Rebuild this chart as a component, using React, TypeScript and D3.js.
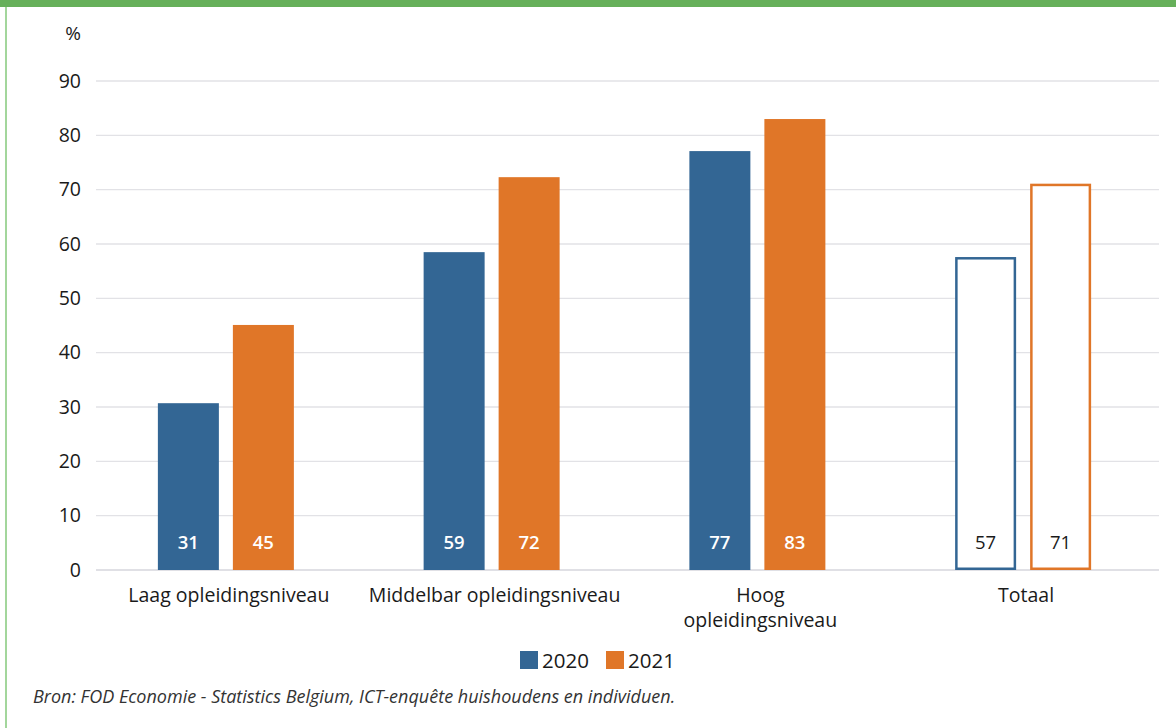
import React from "react";
import * as d3 from "d3";

const categories: string[][] = [
  ["Laag opleidingsniveau"],
  ["Middelbar opleidingsniveau"],
  ["Hoog", "opleidingsniveau"],
  ["Totaal"],
];
const series = ["2020", "2021"];
const values2020 = [30.7, 58.5, 77.1, 57.6];
const values2021 = [45.1, 72.3, 83.0, 71.1];
const labels2020 = ["31", "59", "77", "57"];
const labels2021 = ["45", "72", "83", "71"];
const outlined = [false, false, false, true];
const yTicks = [0, 10, 20, 30, 40, 50, 60, 70, 80, 90];

const W = 1176;
const H = 728;
const BLUE = "#336694";
const ORANGE = "#e07628";
const FONT = "'Open Sans', sans-serif";

export default function App() {
  const x = d3
    .scaleBand<number>()
    .domain(d3.range(categories.length))
    .range([96, 1159]);
  const y = d3.scaleLinear().domain([0, 90]).range([570, 81]);
  const bw = 61;
  const gap = 14;

  const data = [values2020, values2021];
  const labels = [labels2020, labels2021];
  const colors = [BLUE, ORANGE];

  return (
    <svg
      width={W}
      height={H}
      style={{ position: "absolute", left: 0, top: 0, background: "#fff" }}
      fontFamily={FONT}
    >
      <rect x={0} y={0} width={W} height={H} fill="#fff" />
      <rect x={0} y={0} width={W} height={7} fill="#66b05a" />
      <rect x={5} y={7} width={2} height={H - 7} fill="#a3d69c" />

      {/* gridlines */}
      {yTicks.map((t) => (
        <line
          key={t}
          x1={96}
          x2={1159}
          y1={y(t)}
          y2={y(t)}
          stroke={t === 0 ? "#d6d6dc" : "#e2e2e6"}
          strokeWidth={1.3}
        />
      ))}
      {yTicks.map((t) => (
        <text
          key={"l" + t}
          x={81}
          y={y(t)}
          dy="0.35em"
          textAnchor="end"
          fontSize={19.5}
          fill="#1a1a1a"
        >
          {t}
        </text>
      ))}
      <text x={73} y={33} dy="0.35em" textAnchor="middle" fontSize={19} fill="#1a1a1a">
        %
      </text>

      {/* bars */}
      {categories.map((c, i) => {
        const center = (x(i) as number) + x.bandwidth() / 2 - 3;
        const start = center - (2 * bw + gap) / 2;
        return (
          <g key={i}>
            {series.map((s, k) => {
              const v = data[k][i];
              const bx = start + k * (bw + gap);
              const by = y(v);
              const bh = y(0) - by;
              const out = outlined[i];
              return (
                <g key={s}>
                  {out ? (
                    <rect
                      x={bx + 1.25}
                      y={by + 1.25}
                      width={bw - 2.5}
                      height={bh - 2.5}
                      fill="#fff"
                      stroke={colors[k]}
                      strokeWidth={2.5}
                    />
                  ) : (
                    <rect x={bx} y={by} width={bw} height={bh} fill={colors[k]} />
                  )}
                  <text
                    x={bx + bw / 2}
                    y={543}
                    dy="0.35em"
                    textAnchor="middle"
                    fontSize={18.5}
                    fontWeight={out ? 400 : 600}
                    fill={out ? "#1a1a1a" : "#fff"}
                  >
                    {labels[k][i]}
                  </text>
                </g>
              );
            })}
            {c.map((line, j) => (
              <text
                key={j}
                x={(x(i) as number) + x.bandwidth() / 2}
                y={602 + j * 25}
                textAnchor="middle"
                fontSize={19.5}
                fill="#1a1a1a"
              >
                {line}
              </text>
            ))}
          </g>
        );
      })}

      {/* legend */}
      {series.map((s, k) => (
        <g key={s} transform={`translate(${520 + k * 86},651)`}>
          <rect x={0} y={0} width={18} height={18} fill={colors[k]} />
          <text x={22} y={9.5} dy="0.36em" fontSize={20.5} fill="#1a1a1a">
            {s}
          </text>
        </g>
      ))}

      <text x={33} y={697} dy="0.35em" fontSize={18} fontStyle="italic" fill="#333">
        Bron: FOD Economie - Statistics Belgium, ICT-enquête huishoudens en individuen.
      </text>
    </svg>
  );
}
